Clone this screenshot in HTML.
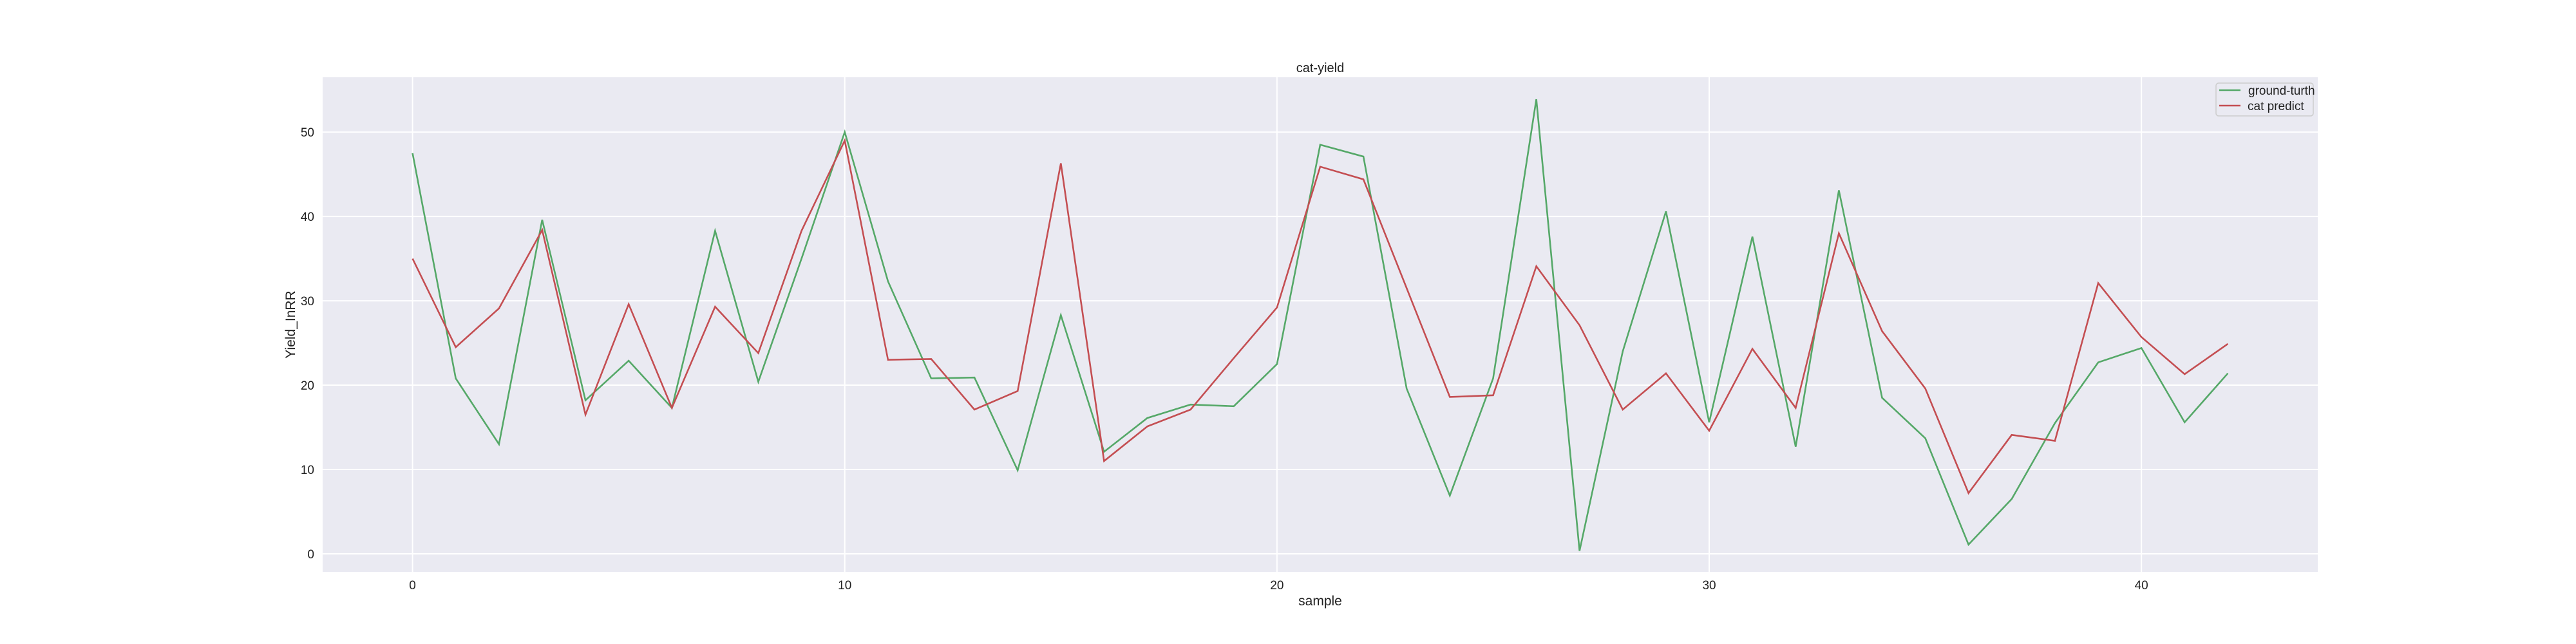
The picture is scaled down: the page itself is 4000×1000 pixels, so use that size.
<!DOCTYPE html>
<html><head><meta charset="utf-8"><style>
html,body{margin:0;padding:0;background:#fff;}
svg{display:block;font-family:"Liberation Sans","DejaVu Sans",sans-serif;}
</style></head><body>
<svg id="chart" width="4000" height="1000" viewBox="0 0 4000 1000">
<rect x="501" y="120" width="3098" height="768" fill="#eaeaf2"/>
<g id="grid"></g>
<g id="series"></g>
<g id="ticks"></g>
<text x="2050" y="112" font-size="20" text-anchor="middle" fill="#222">cat-yield</text>
<text x="2050" y="940" font-size="21" text-anchor="middle" fill="#222">sample</text>
<text transform="translate(458,504) rotate(-90)" font-size="21" text-anchor="middle" fill="#222">Yield_InRR</text>
<g>
<rect x="3441" y="129" width="151" height="51" rx="4" fill="#eaeaf2" stroke="#cccccc" stroke-width="1.5"/>
<g>
<line x1="3446" y1="140" x2="3479" y2="140" stroke="#55a868" stroke-width="2.5"/>
<text x="3491" y="147" font-size="19" fill="#222">ground-turth</text>
</g>
<g>
<line x1="3446" y1="164" x2="3479" y2="164" stroke="#c44e52" stroke-width="2.5"/>
<text x="3490" y="171" font-size="19" fill="#222">cat predict</text>
</g>
</g>
</svg>
<script>
const groundTruth = [47.5,20.8,13.0,39.6,18.2,22.9,17.3,38.3,20.4,35.0,50.0,32.3,20.8,20.9,9.9,28.3,12.1,16.1,17.7,17.5,22.5,48.5,47.1,19.6,6.9,20.8,53.9,0.35,24.0,40.6,15.6,37.6,12.7,43.1,18.5,13.7,1.1,6.5,15.5,22.7,24.4,15.6,21.4];
const catPredict = [35.0,24.5,29.1,38.4,16.5,29.6,17.3,29.3,23.8,38.3,49.0,23.0,23.1,17.1,19.3,46.3,11.0,15.1,17.1,23.2,29.2,45.9,44.4,31.5,18.6,18.8,34.1,27.1,17.1,21.4,14.6,24.3,17.3,38.0,26.4,19.6,7.2,14.1,13.4,32.1,25.7,21.3,24.9];
const xTicks = [0,10,20,30,40];
const yTicks = [0,10,20,30,40,50];

const NS = "http://www.w3.org/2000/svg";
const L=501,R=3599,T=120,B=888;
const xMin=-2.08,xMax=44.08,yMin=-2.14,yMax=56.5;
function sx(v){return L+(v-xMin)/(xMax-xMin)*(R-L);}
function sy(v){return B-(v-yMin)/(yMax-yMin)*(B-T);}
function mk(tag,attrs,parent){const e=document.createElementNS(NS,tag);for(const k in attrs)e.setAttribute(k,attrs[k]);parent.appendChild(e);return e;}
const grid=document.getElementById('grid'),ticks=document.getElementById('ticks'),series=document.getElementById('series');
xTicks.forEach(v=>{
  const g=mk('line',{x1:sx(v),x2:sx(v),y1:T,y2:B,stroke:'#fff','stroke-width':2},grid);
  
  
  const t=mk('text',{x:sx(v),y:915,'font-size':19,'text-anchor':'middle',fill:'#222'},ticks);
  t.textContent=v;
  
  
});
yTicks.forEach(v=>{
  const g=mk('line',{x1:L,x2:R,y1:sy(v),y2:sy(v),stroke:'#fff','stroke-width':2},grid);
  
  
  const t=mk('text',{x:488,y:sy(v)+7,'font-size':19,'text-anchor':'end',fill:'#222'},ticks);
  t.textContent=v;
  
  
});
function line(data,color,name){
  const pts=data.map((v,i)=>sx(i).toFixed(1)+','+sy(v).toFixed(1)).join(' ');
  const p=mk('polyline',{points:pts,fill:'none',stroke:color,'stroke-width':2.6,'stroke-linejoin':'miter'},series);
  
  
}
line(groundTruth,'#55a868','ground-truth-line');
line(catPredict,'#c44e52','cat-predict-line');
</script>
</body></html>
